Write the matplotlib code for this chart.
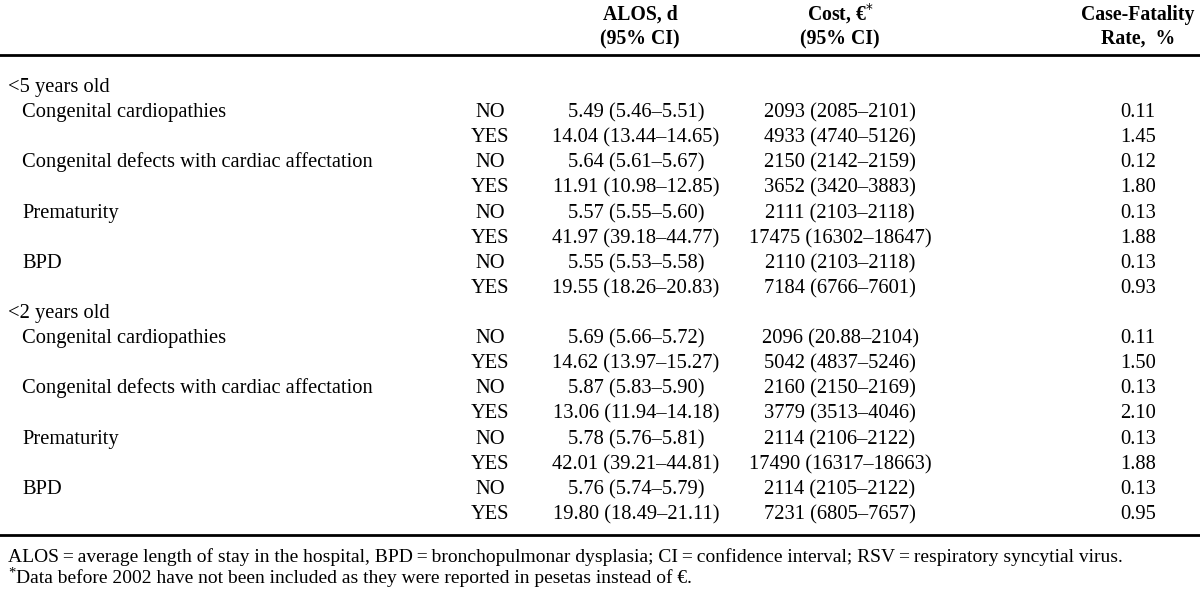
import matplotlib
matplotlib.use("Agg")
import matplotlib.pyplot as plt
from matplotlib.lines import Line2D

plt.rcParams['font.family'] = ['Liberation Serif', 'DejaVu Serif']

# table content
groups = ["<5 years old", "<2 years old"]
conditions = ["Congenital cardiopathies", "Congenital defects with cardiac affectation",
              "Prematurity", "BPD"]
flags = ["NO", "YES"]

alos_u5 = ["5.49 (5.46\u20135.51)", "14.04 (13.44\u201314.65)",
           "5.64 (5.61\u20135.67)", "11.91 (10.98\u201312.85)",
           "5.57 (5.55\u20135.60)", "41.97 (39.18\u201344.77)",
           "5.55 (5.53\u20135.58)", "19.55 (18.26\u201320.83)"]
cost_u5 = ["2093 (2085\u20132101)", "4933 (4740\u20135126)",
           "2150 (2142\u20132159)", "3652 (3420\u20133883)",
           "2111 (2103\u20132118)", "17475 (16302\u201318647)",
           "2110 (2103\u20132118)", "7184 (6766\u20137601)"]
cfr_u5 = ["0.11", "1.45", "0.12", "1.80", "0.13", "1.88", "0.13", "0.93"]

alos_u2 = ["5.69 (5.66\u20135.72)", "14.62 (13.97\u201315.27)",
           "5.87 (5.83\u20135.90)", "13.06 (11.94\u201314.18)",
           "5.78 (5.76\u20135.81)", "42.01 (39.21\u201344.81)",
           "5.76 (5.74\u20135.79)", "19.80 (18.49\u201321.11)"]
cost_u2 = ["2096 (20.88\u20132104)", "5042 (4837\u20135246)",
           "2160 (2150\u20132169)", "3779 (3513\u20134046)",
           "2114 (2106\u20132122)", "17490 (16317\u201318663)",
           "2114 (2105\u20132122)", "7231 (6805\u20137657)"]
cfr_u2 = ["0.11", "1.50", "0.13", "2.10", "0.13", "1.88", "0.13", "0.95"]

headers = [("ALOS, d", "(95% CI)"), ("Cost, \u20ac$^{*}$", "(95% CI)"),
           ("Case-Fatality", "Rate,  %")]

footnotes = ["ALOS\u2009=\u2009average length of stay in the hospital, BPD\u2009=\u2009bronchopulmonar dysplasia; "
             "CI\u2009=\u2009confidence interval; RSV\u2009=\u2009respiratory syncytial virus.",
             "Data before 2002 have not been included as they were reported in pesetas instead of \u20ac."]

W, H = 1200, 592
FS = 14.8
fig = plt.figure(figsize=(W / 100, H / 100), dpi=100)

# y is the baseline in pixels from the top
def px(x, y, s, ha='left', size=FS, **kw):
    fig.text(x / W, 1 - y / H, s, ha=ha, va='baseline', fontsize=size, **kw)

def hline(y, lw):
    fig.add_artist(Line2D([0, 1], [1 - y / H, 1 - y / H], color='black', lw=lw,
                          transform=fig.transFigure))

# header
head_x = [640, 840, 1138]
for x, (a, b) in zip(head_x, headers):
    px(x, 20, a, ha='center', weight='bold', size=14.2)
    px(x, 44, b, ha='center', weight='bold', size=14.2)
hline(55, 2.0)

col_flag, col_alos, col_cost, col_cfr = 490, 636, 840, 1138
step = 25.1

def block(y0, title, alos, cost, cfr):
    px(8, y0, title)
    for i in range(8):
        y = round(y0 + step * (i + 1))
        if i % 2 == 0:
            px(22, y, conditions[i // 2])
        px(col_flag, y, flags[i % 2], ha='center')
        px(col_alos, y, alos[i], ha='center')
        px(col_cost, y, cost[i], ha='center')
        px(col_cfr, y, cfr[i], ha='center')

block(92, groups[0], alos_u5, cost_u5, cfr_u5)
block(318, groups[1], alos_u2, cost_u2, cfr_u2)

hline(535, 2.0)

px(8, 562, footnotes[0], size=14.0)
px(8, 577, "*", size=10.5)
px(16, 583, footnotes[1], size=14.0)

fig.savefig("out.png", dpi=100)
